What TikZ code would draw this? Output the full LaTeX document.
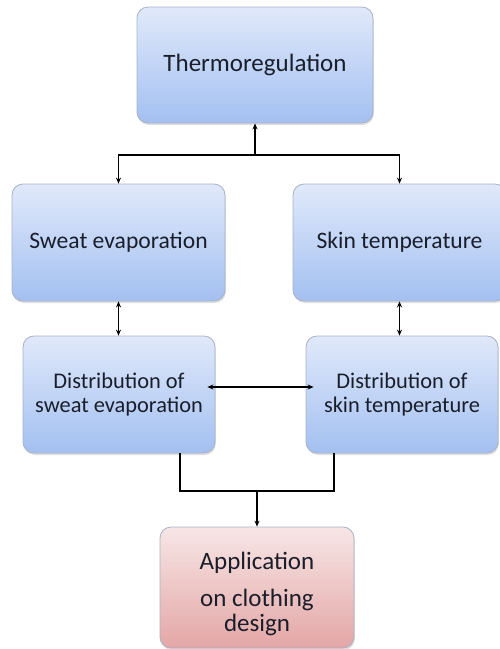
\documentclass[tikz,border=0pt]{standalone}
\usepackage{fontspec}
\setmainfont{Carlito}
\usetikzlibrary{arrows.meta,shadows}
\definecolor{bluetop}{HTML}{E0E9FA}
\definecolor{bluebot}{HTML}{A3C0F1}
\definecolor{pinktop}{HTML}{F7E6E6}
\definecolor{pinkbot}{HTML}{E4A6A6}
\definecolor{edgecol}{HTML}{A7B2C6}
\definecolor{txtcol}{HTML}{1A1E2A}
\tikzset{
  box/.style={rectangle, rounded corners=11pt, draw=edgecol, line width=0.8pt,
    text=txtcol, align=center, inner sep=0pt,
    drop shadow={opacity=0.25, shadow xshift=0.8pt, shadow yshift=-2pt}},
  bluebox/.style={box, top color=bluetop, bottom color=bluebot},
  pinkbox/.style={box, top color=pinktop, bottom color=pinkbot},
  conn/.style={line width=1.4pt, black},
  tip/.style={-{Stealth[length=6pt,width=5pt]}},
  bitip/.style={{Stealth[length=6pt,width=5pt]}-{Stealth[length=6pt,width=5pt]}}
}
\begin{document}
\begin{tikzpicture}[x=1pt,y=-1pt]
\useasboundingbox (0,0) rectangle (499,649);
\node[bluebox, minimum width=236pt, minimum height=116pt, font=\fontsize{25}{30}\selectfont] (top) at (255,65) {Thermoregulation};
\node[bluebox, minimum width=213pt, minimum height=117pt, font=\fontsize{23.6}{28}\selectfont] (sw) at (118.5,242.5) {Sweat evaporation};
\node[bluebox, minimum width=213pt, minimum height=117pt, font=\fontsize{23.6}{28}\selectfont] (sk) at (399.5,242.5) {Skin temperature};
\node[bluebox, minimum width=192pt, minimum height=117pt, font=\fontsize{22.4}{24}\selectfont] (dl) at (119,394.5) {Distribution of\\sweat evaporation};
\node[bluebox, minimum width=192pt, minimum height=117pt, font=\fontsize{22.4}{24}\selectfont] (dr) at (402,394.5) {Distribution of\\skin temperature};
\node[pinkbox, minimum width=194pt, minimum height=121pt, font=\fontsize{25}{25}\selectfont] (app) at (257,587.5) {\rule{0pt}{31pt}Application\\[12pt]on clothing\\design};
% top junction
\coordinate (t) at (255,155);
\draw[conn, tip] (t) -- (top.south);
\draw[conn, tip] (t) -| (sw.north);
\draw[conn, tip] (t) -| (sk.north);
% vertical double arrows
\draw[conn, bitip] (sw.south) -- (sw.south |- dl.north);
\draw[conn, bitip] (sk.south) -- (sk.south |- dr.north);
% horizontal double arrow
\draw[conn, bitip] ([shift={(-8pt,7.5pt)}]dl.east) -- ([shift={(8pt,7.5pt)}]dr.west);
% bottom junction
\coordinate (j) at (257,491);
\draw[conn] ([xshift=61pt]dl.south) |- (j) -| ([xshift=-68pt]dr.south);
\draw[conn, tip] (j) -- (app.north);
\end{tikzpicture}
\end{document}
